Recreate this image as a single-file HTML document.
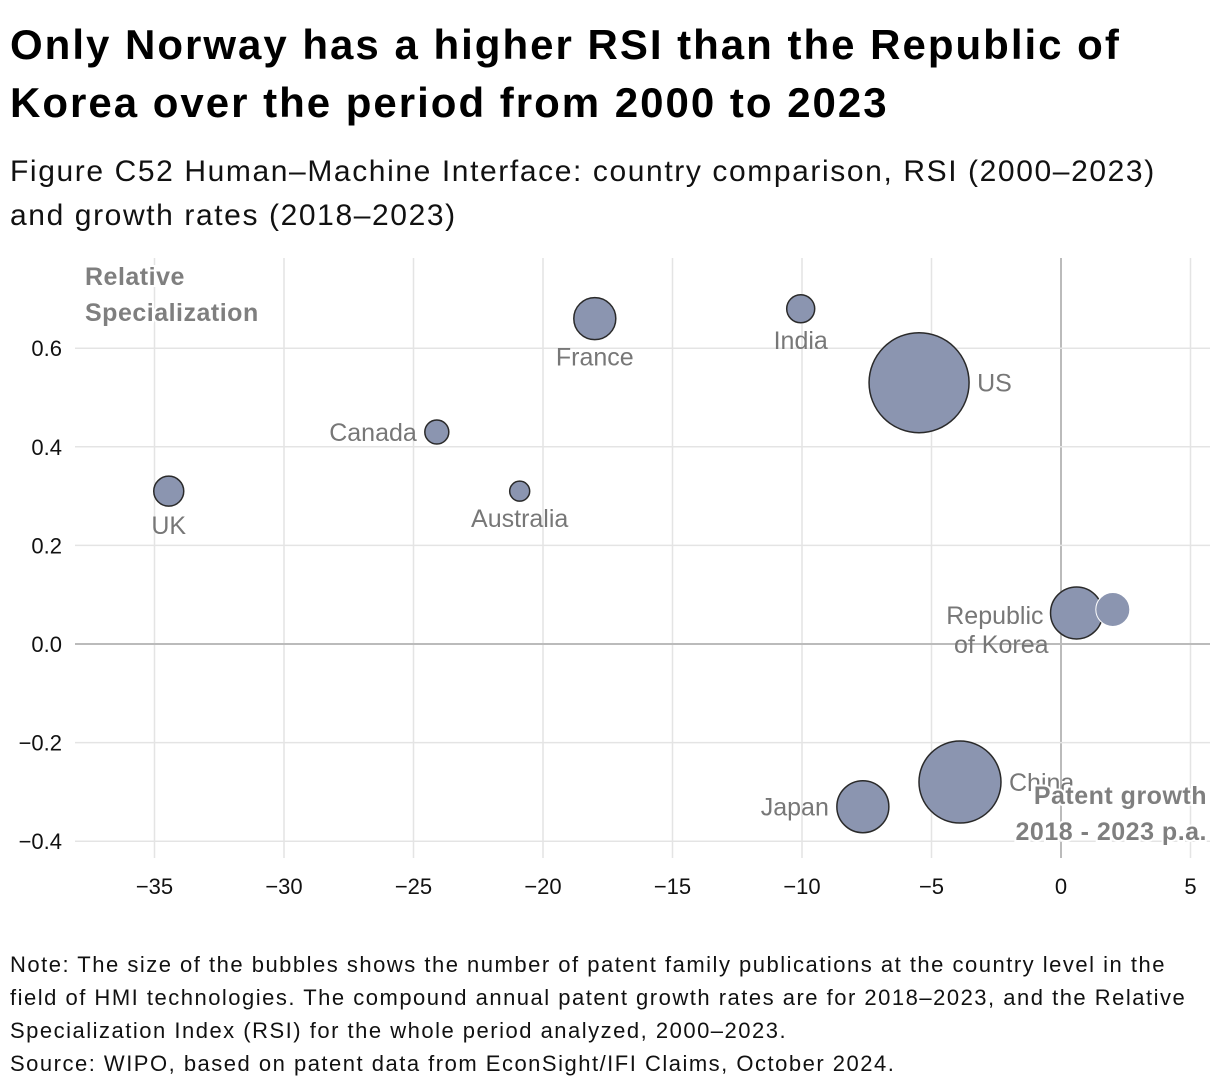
<!DOCTYPE html>
<html><head><meta charset="utf-8"><style>
body{margin:0;background:#fff;width:1220px;height:1092px;overflow:hidden;font-family:"Liberation Sans",sans-serif;}
#title{position:absolute;left:10px;top:16px;font-size:42px;font-weight:bold;line-height:58px;color:#000;width:1210px;white-space:nowrap;letter-spacing:2px;}
#subtitle{position:absolute;left:10px;top:150px;font-size:30px;line-height:44px;color:#111;width:1210px;white-space:nowrap;letter-spacing:1.6px;}
#note{position:absolute;left:10px;top:948px;font-size:22px;line-height:33px;color:#111;width:1210px;white-space:nowrap;letter-spacing:1.5px;}
svg{position:absolute;left:0;top:0;}
</style></head><body>
<div id="title">Only Norway has a higher RSI than the Republic of<br>Korea over the period from 2000 to 2023</div>
<div id="subtitle">Figure C52 Human–Machine Interface: country comparison, RSI (2000–2023)<br>and growth rates (2018–2023)</div>
<svg id="chart" width="1220" height="1092"></svg>
<div id="note">Note: The size of the bubbles shows the number of patent family publications at the country level in the<br>field of HMI technologies. The compound annual patent growth rates are for 2018–2023, and the Relative<br>Specialization Index (RSI) for the whole period analyzed, 2000–2023.<br>Source: WIPO, based on patent data from EconSight/IFI Claims, October 2024.</div>
<script>
const countries=["UK","Canada","Australia","France","India","US","Republic of Korea","Norway","China","Japan"];
const growth=[-34.45,-24.1,-20.9,-18.0,-10.05,-5.48,0.6,2.0,-3.9,-7.65];
const rsi=[0.31,0.43,0.31,0.66,0.68,0.53,0.063,0.07,-0.28,-0.33];
const sizes=[15,12,10,21,14,50,26,17,41,26];
const xTicks=[-35,-30,-25,-20,-15,-10,-5,0,5];
const yTicks=[0.6,0.4,0.2,0.0,-0.2,-0.4];
const X=v=>1061+v*25.9;
const Y=v=>644-v*493;
const svg=document.getElementById('chart');
const NS='http://www.w3.org/2000/svg';
function mk(t,a){const e=document.createElementNS(NS,t);for(const k in a)e.setAttribute(k,a[k]);svg.appendChild(e);return e;}
xTicks.forEach(t=>{
 const l=mk('line',{x1:X(t),x2:X(t),y1:258,y2:858,stroke:t===0?'#bbb':'#e4e4e4','stroke-width':t===0?2:1.5});
 
 
 const tx=mk('text',{x:X(t),y:894,'font-size':22,'text-anchor':'middle',fill:'#111'});
 tx.textContent=t<0?'\u2212'+Math.abs(t):String(t);
 
 
});
yTicks.forEach(t=>{
 const l=mk('line',{x1:75,x2:1210,y1:Y(t),y2:Y(t),stroke:t===0?'#bbb':'#e4e4e4','stroke-width':t===0?2:1.5});
 
 
 const tx=mk('text',{x:62,y:Y(t)+8,'font-size':22,'text-anchor':'end',fill:'#111'});
 tx.textContent=(t<0?'\u2212':'')+Math.abs(t).toFixed(1);
 
 
});
const labelPos={"UK":[0,1,'middle',28],"Canada":[-1,0,'end',9],"Australia":[0,1,'middle',26],"France":[0,1,'middle',26],"India":[0,1,'middle',26],"US":[1,0,'start',9],"China":[1,0,'start',9],"Japan":[-1,0,'end',9]};
countries.forEach((c,i)=>{
 const cx=X(growth[i]),cy=Y(rsi[i]),r=sizes[i];
 const isN=c==='Norway';
 const b=mk('circle',{cx,cy,r,fill:'#8b95b0',stroke:isN?'#fff':'#2a2a2a','stroke-width':isN?1:1.5});
 
 
 if(c==='Republic of Korea'){
  const t1=mk('text',{x:cx-r-7,y:cy+11,'font-size':25,'text-anchor':'end',fill:'#777'});t1.textContent='Republic';
  
  
  const t2=mk('text',{x:cx-r-2,y:cy+40,'font-size':25,'text-anchor':'end',fill:'#777'});t2.textContent='of Korea';
  
  
  return;
 }
 const p=labelPos[c];if(!p)return;
 const tx=mk('text',{x:cx+p[0]*(r+8),y:p[1]?cy+r+p[3]:cy+p[3],'font-size':25,'text-anchor':p[2],fill:'#777'});
 tx.textContent=c;
 
 
});
[['Relative',85,285,'start'],['Specialization',85,321,'start'],['Patent growth',1207,804,'end'],['2018 - 2023 p.a.',1207,840,'end']].forEach(a=>{
 const t=mk('text',{x:a[1],y:a[2],'font-size':25,'font-weight':'bold','text-anchor':a[3],fill:'#7f7f7f',stroke:'#fff','stroke-width':4,'paint-order':'stroke','letter-spacing':'0.5'});
 t.textContent=a[0];
 
 
});
</script>
</body></html>
